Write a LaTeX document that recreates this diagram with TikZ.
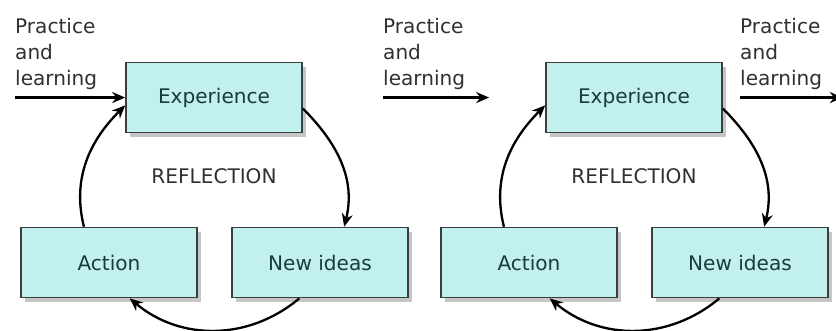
\documentclass[tikz,border=0pt]{standalone}
\usepackage{xcolor}
\usepackage{fontspec}
\setmainfont{DejaVu Sans}
\usetikzlibrary{arrows.meta, positioning, shadows}
\definecolor{boxfill}{HTML}{C2F0EE}
\definecolor{boxline}{HTML}{38403F}
\definecolor{boxtext}{HTML}{173C3A}
\definecolor{notetext}{HTML}{303030}
\tikzstyle{stage} = [rectangle, minimum width=6.16cm, minimum height=2.45cm, text centered, draw=boxline, line width=1.6pt, fill=boxfill, text=boxtext, font=\fontsize{20}{24}\selectfont, drop shadow={shadow xshift=0.14cm, shadow yshift=-0.16cm, opacity=0.45}]
\tikzstyle{note} = [align=left, inner sep=0pt, anchor=north west, text=notetext, font=\fontsize{20}{26}\selectfont]
\tikzstyle{reflect} = [text=notetext, font=\fontsize{20}{24}\selectfont]
\tikzstyle{flow} = [line width=2.3pt, -{Stealth[length=13pt, width=11pt]}]

\begin{document}
\begin{tikzpicture}[node distance=5.775cm]
        \useasboundingbox (0,0) rectangle (29.26,11.585);

        % First cycle
        \node (exp1) [stage] at (7.49,8.17) {Experience};
        \node (act1) [stage, below of=exp1, xshift=-3.675cm] {Action};
        \node (new1) [stage, below of=exp1, xshift=3.71cm] {New ideas};
        \node (ref1) [reflect, node distance=2.75cm, below of=exp1] {REFLECTION};

        % Second cycle
        \node (exp2) [stage, node distance=14.7cm, right of=exp1] {Experience};
        \node (act2) [stage, below of=exp2, xshift=-3.675cm] {Action};
        \node (new2) [stage, below of=exp2, xshift=3.71cm] {New ideas};
        \node (ref2) [reflect, node distance=2.75cm, below of=exp2] {REFLECTION};

        % Practice and learning
        \node (lbl1) [note] at (0.525,10.955) {Practice\\and\\learning};
        \node (lbl2) [note] at (13.405,10.955) {Practice\\and\\learning};
        \node (lbl3) [note] at (25.9,10.955) {Practice\\and\\learning};
        \coordinate (in1) at (lbl1.west |- exp1);
        \coordinate (in2) at (lbl2.west |- exp2);
        \coordinate (tip2) at ([xshift=-1.96cm]exp2.west);
        \coordinate (out3) at (lbl3.west |- exp2);
        \coordinate (tip3) at (29.5,8.17);

        % Arrows
        \draw [flow] (in1) -- (exp1.west);
        \draw [flow] (in2) -- (tip2);
        \draw [flow] (out3) -- (tip3);

        \draw [flow] (exp1.-7) to[out=-45, in=76] (new1.56);
        \draw [flow] (new1.240) to[out=-140, in=-40] (act1.300);
        \draw [flow] (act1.125) to[out=104, in=225] (exp1.185);

        \draw [flow] (exp2.-7) to[out=-45, in=76] (new2.56);
        \draw [flow] (new2.240) to[out=-140, in=-40] (act2.300);
        \draw [flow] (act2.125) to[out=104, in=225] (exp2.185);
    \end{tikzpicture}
\end{document}
